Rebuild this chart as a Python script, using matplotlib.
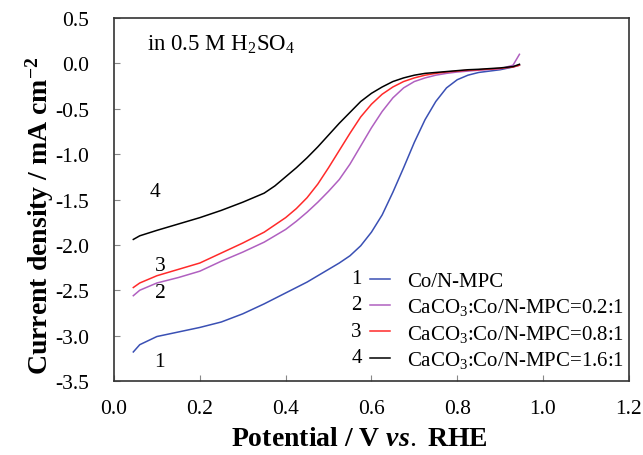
import matplotlib
matplotlib.use('Agg')
import matplotlib.pyplot as plt
from matplotlib.ticker import FormatStrFormatter, MultipleLocator

# potential (V vs. RHE)
potential = [0.045, 0.06, 0.1, 0.15, 0.2, 0.25, 0.3, 0.35, 0.375, 0.4,
             0.425, 0.45, 0.475, 0.5, 0.525, 0.55, 0.575, 0.6, 0.625, 0.65,
             0.675, 0.7, 0.725, 0.75, 0.775, 0.8, 0.825, 0.85, 0.9, 0.93,
             0.945]

# current density (mA cm-2)
j_co = [-3.18, -3.10, -3.01, -2.96, -2.91, -2.85, -2.76, -2.65, -2.59, -2.53,
        -2.47, -2.41, -2.34, -2.27, -2.20, -2.12, -2.01, -1.86, -1.67, -1.42,
        -1.15, -0.87, -0.62, -0.42, -0.27, -0.18, -0.13, -0.10, -0.07, -0.04,
        -0.02]
j_02 = [-2.56, -2.50, -2.42, -2.36, -2.29, -2.18, -2.08, -1.97, -1.90, -1.83,
        -1.74, -1.64, -1.53, -1.41, -1.28, -1.11, -0.91, -0.71, -0.53, -0.38,
        -0.27, -0.20, -0.16, -0.13, -0.11, -0.095, -0.085, -0.075, -0.06,
        -0.02, 0.10]
j_08 = [-2.47, -2.42, -2.34, -2.27, -2.20, -2.09, -1.98, -1.86, -1.78, -1.70,
        -1.60, -1.48, -1.33, -1.15, -0.96, -0.77, -0.59, -0.45, -0.34, -0.26,
        -0.20, -0.16, -0.13, -0.11, -0.095, -0.085, -0.075, -0.07, -0.055,
        -0.04, -0.02]
j_16 = [-1.94, -1.90, -1.84, -1.77, -1.70, -1.62, -1.53, -1.43, -1.35, -1.25,
        -1.15, -1.04, -0.92, -0.79, -0.66, -0.54, -0.42, -0.33, -0.26, -0.20,
        -0.16, -0.13, -0.11, -0.10, -0.09, -0.08, -0.07, -0.065, -0.05, -0.035,
        -0.01]

labels = ['Co/N-MPC', 'CaCO$_3$:Co/N-MPC=0.2:1',
          'CaCO$_3$:Co/N-MPC=0.8:1', 'CaCO$_3$:Co/N-MPC=1.6:1']
numbers = ['1', '2', '3', '4']
colors = ['#3a50b4', '#b060c0', '#ff2a2a', '#000000']
# curve number labels next to curve starts (V, j)
num_pos = [(0.107, -3.29), (0.107, -2.52), (0.107, -2.23), (0.096, -1.41)]

plt.rcParams['font.family'] = 'Liberation Serif'
plt.rcParams['mathtext.fontset'] = 'custom'
plt.rcParams['mathtext.rm'] = 'Liberation Serif'
plt.rcParams['mathtext.it'] = 'Liberation Serif:italic:bold'
plt.rcParams['mathtext.bf'] = 'Liberation Serif:bold'
plt.rcParams['axes.unicode_minus'] = False

fig = plt.figure(figsize=(6.43, 4.56), dpi=100)
ax = fig.add_axes([0.1773, 0.1623, 0.8007, 0.796])

series = [j_co, j_02, j_08, j_16]
for ys, c, lab in zip(series, colors, labels):
    ax.plot(potential, ys, color=c, lw=1.1, label=lab)

for n, (xv, yv) in zip(numbers, num_pos):
    ax.text(xv, yv, n, fontsize=15.5, ha='center', va='center')

ax.text(0.077, 0.21, 'in 0.5 M H$_2$SO$_4$', fontsize=16.5, ha='left',
        va='center')

ax.set_xlim(0, 1.2)
ax.set_ylim(-3.5, 0.5)
ax.xaxis.set_major_locator(MultipleLocator(0.2))
ax.yaxis.set_major_locator(MultipleLocator(0.5))
ax.xaxis.set_major_formatter(FormatStrFormatter('%.1f'))
ax.yaxis.set_major_formatter(FormatStrFormatter('%.1f'))
ax.tick_params(direction='in', length=4, width=0.8, labelsize=15.5,
               color='#888888')
ax.tick_params(axis='y', pad=18)
ax.tick_params(axis='x', pad=13)
for sp in ax.spines.values():
    sp.set_color('#333333')
    sp.set_linewidth(1.2)

ax.set_xlabel('Potential / V $\\mathit{vs.}$ RHE', fontsize=20,
              fontweight='bold')
ax.set_ylabel('Current density / mA cm$^{\\mathbf{-2}}$', fontsize=20,
              fontweight='bold')
ax.xaxis.set_label_coords(0.476, -0.125)
ax.yaxis.set_label_coords(-0.113, 0.457)

leg = ax.legend(loc='lower left', bbox_to_anchor=(0.497, 0.03), frameon=False,
                fontsize=15, handlelength=0.96, handletextpad=0.82,
                labelspacing=0.26, borderaxespad=0, borderpad=0)

# numbers in front of the legend lines
fig.canvas.draw()
renderer = fig.canvas.get_renderer()
inv = fig.transFigure.inverted()
for n, h in zip(numbers, leg.legend_handles):
    bb = h.get_window_extent(renderer)
    x0, y0 = inv.transform((bb.x0 - 8, (bb.y0 + bb.y1) / 2))
    fig.text(x0, y0, n, fontsize=15, ha='right', va='center')

fig.savefig('out.png', dpi=100)
